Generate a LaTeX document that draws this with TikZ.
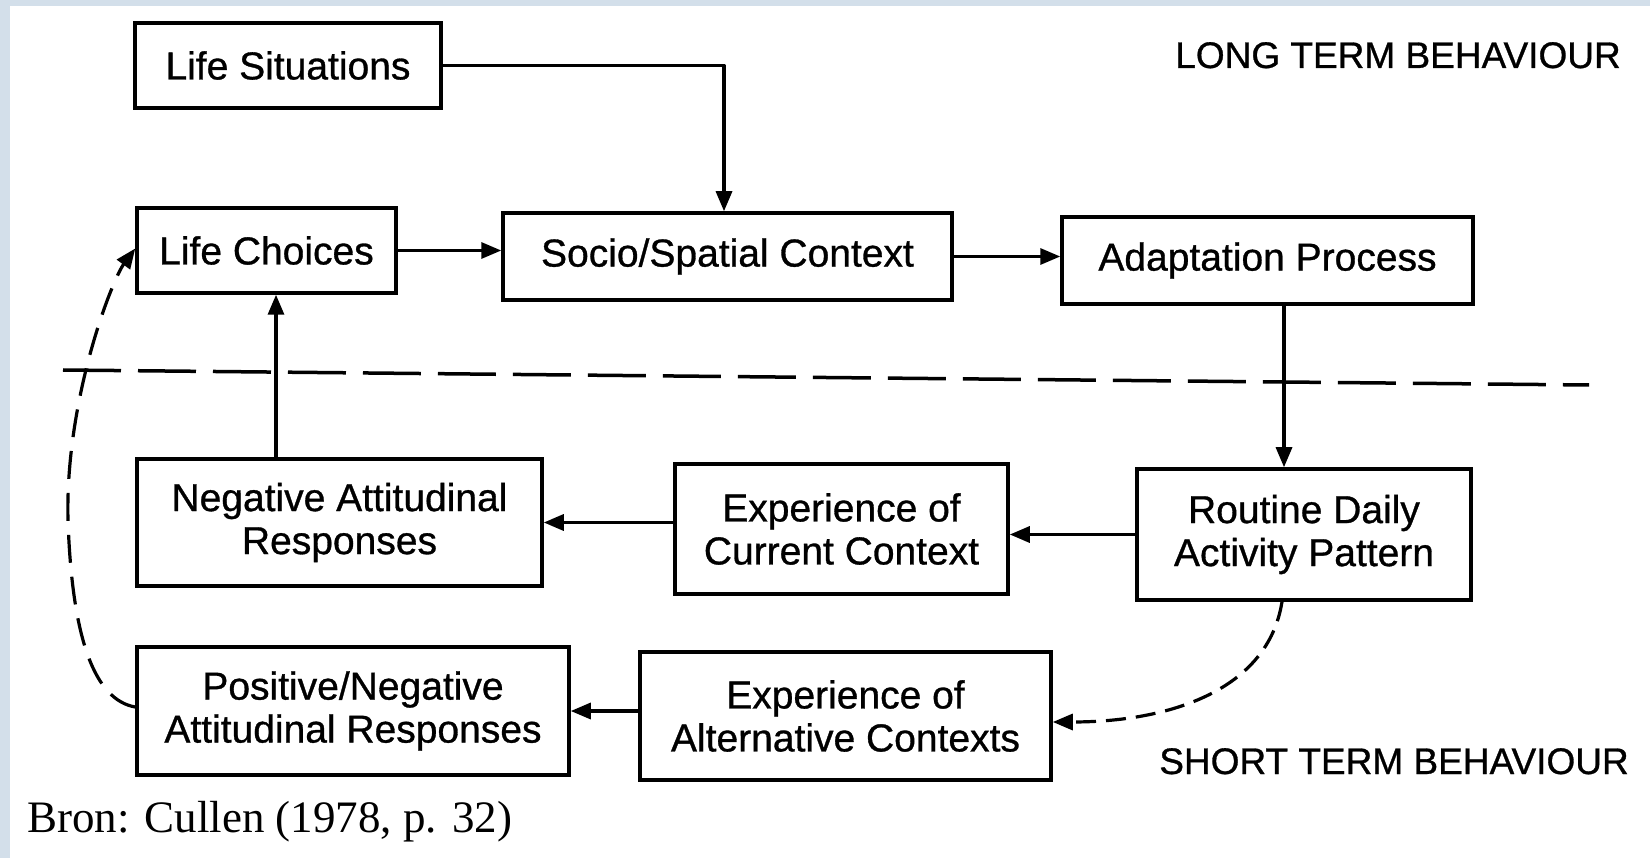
\documentclass[tikz,border=0pt]{standalone}
\usepackage{fontspec}
\setmainfont{Liberation Sans}
\newfontfamily\boxfont[FakeBold=0.8]{Liberation Sans}
\newfontfamily\serifb{Liberation Serif}
\usetikzlibrary{arrows.meta}
\definecolor{bluebg}{RGB}{211,223,234}
\begin{document}
\begin{tikzpicture}[x=1pt,y=-1pt,
  box/.style={draw, line width=3.5pt, inner sep=0pt, align=center,
    font=\boxfont\fontsize{39}{43}\selectfont},
  arr/.style={line width=3.2pt, -{Triangle[length=20pt,width=16pt]}},
  dasharr/.style={arr, dash pattern=on 24pt off 12pt},
  lbl/.style={font=\boxfont\fontsize{37}{40}\selectfont, inner sep=0pt}]
\useasboundingbox (0,0) rectangle (1650,858);
\fill[bluebg] (0,0) rectangle (1650,858);
\fill[white] (10,6) rectangle (1650,858);

\node[box, minimum width=306pt, minimum height=85pt] (LS) at (288,65.5) {Life Situations};
\node[box, minimum width=259pt, minimum height=85pt] (LC) at (266.5,250.5) {Life Choices};
\node[box, minimum width=449pt, minimum height=87pt] (SS) at (727.5,256.5) {Socio/Spatial Context};
\node[box, minimum width=411pt, minimum height=87pt] (AP) at (1267.5,260.5) {Adaptation Process};
\node[box, minimum width=405pt, minimum height=127pt] (NA) at (339.5,522.5) {Negative Attitudinal\\Responses};
\node[box, minimum width=333pt, minimum height=130pt] (EC) at (841.5,529) {Experience of\\Current Context};
\node[box, minimum width=334pt, minimum height=131pt] (RD) at (1304,534.5) {Routine Daily\\Activity Pattern};
\node[box, minimum width=432pt, minimum height=128pt] (PN) at (353,711) {Positive/Negative\\Attitudinal Responses};
\node[box, minimum width=411pt, minimum height=128pt] (EA) at (845.5,716) {Experience of\\Alternative Contexts};

\node[lbl, anchor=base] (LT) at (1398,68) {LONG TERM BEHAVIOUR};
\node[lbl, anchor=base] (ST) at (1394,774) {SHORT TERM BEHAVIOUR};
\node[inner sep=0pt, anchor=base west, font=\serifb\fontsize{45}{50}\selectfont] (BR) at (27,832) {Bron: Cullen (1978, p. 32)};

% dashed separator
\coordinate (dl) at (63,370);
\coordinate (dr) at (1589,385);
\draw[line width=3.5pt, dash pattern=on 58pt off 17pt] (dl) -- (dr);

% connectors
\draw[arr, line join=round] (LS.east) -| (724,0 |- SS.north);
\draw[arr] (LC.east) -- (LC.east -| SS.west);
\draw[arr] (SS.east) -- (SS.east -| AP.west);
\draw[arr] (AP.south -| 1284,0) -- (RD.north -| 1284,0);
\draw[arr] (RD.west) -- (RD.west -| EC.east);
\draw[arr] (EC.west |- NA.east) -- (NA.east);
\draw[arr] (NA.north -| 276,0) -- (LC.south -| 276,0);
\draw[arr] (EA.west |- PN.east) -- (PN.east);

% dashed feedback loops
\draw[dasharr, dash pattern=on 20pt off 10pt] ([xshift=-22pt]RD.south) .. controls (1268,690) and (1170,722) .. ([yshift=-6pt]EA.east);
\draw[dasharr, dash pattern=on 28pt off 14pt] ([yshift=4pt]PN.west) .. controls (95,700) and (72,640) .. (68,520) .. controls (65,400) and (112,280) .. ([yshift=2pt]LC.west);
\end{tikzpicture}
\end{document}
